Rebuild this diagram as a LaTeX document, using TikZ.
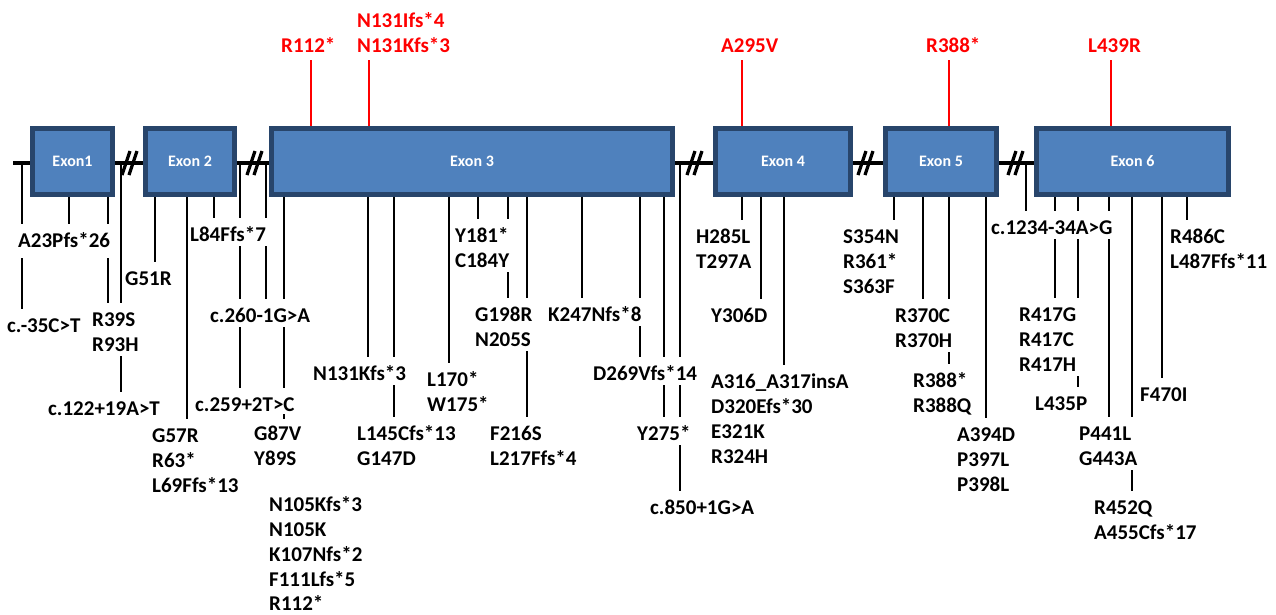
\documentclass[tikz,border=0pt]{standalone}
\usepackage{fontspec}
\setmainfont{Carlito}
\definecolor{exonfill}{HTML}{4F81BD}
\definecolor{exonborder}{HTML}{28456B}
\newcommand\seg[4][]{\draw[conn,#1] (#3 -| #2,0) -- (#2,0 |- #4);}
\begin{document}
\begin{tikzpicture}[x=1pt,y=-1pt,
 lab/.style={font=\fontsize{21}{25}\selectfont\bfseries, inner sep=0pt, text height=14pt, text depth=0pt, anchor=base west},
 redlab/.style={lab, text=red},
 conn/.style={line width=2pt, shorten >=9pt},
 mid/.style={shorten <=5pt},
 redconn/.style={draw=red, line width=2pt, shorten <=8pt},
 exon/.style={draw=exonborder, fill=exonfill, line width=5pt, text=white, font=\fontsize{16}{19}\selectfont\bfseries, minimum height=66pt, inner sep=0pt},
 backbone/.style={line width=4pt},
 slashmark/.style={line width=3.2pt}]
\useasboundingbox (0,0) rectangle (1276,614);
% backbone
\coordinate (bb) at (0,163);
\coordinate (bbstart) at (13,163);
\coordinate (bbend) at (1034,163);
\draw[backbone] (bbstart) -- (bbend);
\draw[slashmark] (122,175) -- (130,151) (129,175) -- (137,151);
\draw[slashmark] (247,175) -- (255,151) (254,175) -- (262,151);
\draw[slashmark] (687,175) -- (695,151) (694,175) -- (702,151);
\draw[slashmark] (858,175) -- (866,151) (865,175) -- (873,151);
\draw[slashmark] (1008,175) -- (1016,151) (1015,175) -- (1023,151);
% exons
\node[exon, minimum width=80pt] (ex1) at (72.5,161.5) {Exon1};
\node[exon, minimum width=89pt] (ex2) at (190,161.5) {Exon 2};
\node[exon, minimum width=401pt] (ex3) at (472,161) {Exon 3};
\node[exon, minimum width=135pt] (ex4) at (783,161.5) {Exon 4};
\node[exon, minimum width=111pt] (ex5) at (941,161.5) {Exon 5};
\node[exon, minimum width=192pt] (ex6) at (1132.5,161.5) {Exon 6};
% red labels
\node[redlab] (r112) at (281,52) {R112*};
\node[redlab] (n131i) at (357,27) {N131Ifs*4};
\node[redlab] (n131k) at (357,52) {N131Kfs*3};
\node[redlab] (a295) at (721,52) {A295V};
\node[redlab] (r388a) at (926,52) {R388*};
\node[redlab] (l439) at (1088,52) {L439R};
\draw[redconn] (311,0 |- r112.south) -- (ex3.north -| 311,0);
\draw[redconn] (369,0 |- n131k.south) -- (ex3.north -| 369,0);
\draw[redconn] (742,0 |- a295.south) -- (ex4.north -| 742,0);
\draw[redconn] (949,0 |- r388a.south) -- (ex5.north -| 949,0);
\draw[redconn] (1111,0 |- l439.south) -- (ex6.north -| 1111,0);
% black labels
\node[lab] (a23) at (18,247) {A23Pfs*26};
\node[lab] (c35) at (7,332) {c.-35C>T};
\node[lab] (r39) at (92,326) {R39S};
\node[lab] (r93) at (92,351) {R93H};
\node[lab] (c122) at (48,415) {c.122+19A>T};
\node[lab] (g51) at (125,285) {G51R};
\node[lab] (g57) at (152,442) {G57R};
\node[lab] (r63) at (152,467) {R63*};
\node[lab] (l69) at (152,492) {L69Ffs*13};
\node[lab] (l84) at (190,241) {L84Ffs*7};
\node[lab] (c260) at (210,322) {c.260-1G>A};
\node[lab] (c259) at (195,411) {c.259+2T>C};
\node[lab] (g87) at (254,440) {G87V};
\node[lab] (y89) at (254,465) {Y89S};
\node[lab] (n105a) at (269,511) {N105Kfs*3};
\node[lab] (n105b) at (269,536) {N105K};
\node[lab] (k107) at (269,561) {K107Nfs*2};
\node[lab] (f111) at (269,586) {F111Lfs*5};
\node[lab] (r112b) at (269,610) {R112*};
\node[lab] (n131b) at (313,380) {N131Kfs*3};
\node[lab] (l145) at (357,440) {L145Cfs*13};
\node[lab] (g147) at (357,465) {G147D};
\node[lab] (l170) at (427,386) {L170*};
\node[lab] (w175) at (427,411) {W175*};
\node[lab] (y181) at (455,242) {Y181*};
\node[lab] (c184) at (455,267) {C184Y};
\node[lab] (g198) at (475,321) {G198R};
\node[lab] (n205) at (475,346) {N205S};
\node[lab] (f216) at (490,440) {F216S};
\node[lab] (l217) at (490,465) {L217Ffs*4};
\node[lab] (k247) at (548,321) {K247Nfs*8};
\node[lab] (d269) at (593,380) {D269Vfs*14};
\node[lab] (y275) at (637,440) {Y275*};
\node[lab] (c850) at (650,514) {c.850+1G>A};
\node[lab] (h285) at (696,243) {H285L};
\node[lab] (t297) at (696,268) {T297A};
\node[lab] (y306) at (711,322) {Y306D};
\node[lab] (a316) at (711,388) {A316\_A317insA};
\node[lab] (d320) at (711,413) {D320Efs*30};
\node[lab] (e321) at (711,438) {E321K};
\node[lab] (r324) at (711,463) {R324H};
\node[lab] (s354) at (843,243) {S354N};
\node[lab] (r361) at (843,268) {R361*};
\node[lab] (s363) at (843,293) {S363F};
\node[lab] (r370c) at (895,322) {R370C};
\node[lab] (r370h) at (895,347) {R370H};
\node[lab] (r388b) at (913,387) {R388*};
\node[lab] (r388q) at (913,412) {R388Q};
\node[lab] (a394) at (957,441) {A394D};
\node[lab] (p397) at (957,466) {P397L};
\node[lab] (p398) at (957,491) {P398L};
\node[lab] (c1234) at (991,234) {c.1234-34A>G};
\node[lab] (r417g) at (1019,321) {R417G};
\node[lab] (r417c) at (1019,346) {R417C};
\node[lab] (r417h) at (1019,371) {R417H};
\node[lab] (l435) at (1035,410) {L435P};
\node[lab] (p441) at (1079,440) {P441L};
\node[lab] (g443) at (1079,465) {G443A};
\node[lab] (r452) at (1094,514) {R452Q};
\node[lab] (a455) at (1094,539) {A455Cfs*17};
\node[lab] (f470) at (1140,401) {F470I};
\node[lab] (r486) at (1170,243) {R486C};
\node[lab] (l487) at (1170,268) {L487Ffs*11};
% connectors
\seg{22}{bb}{a23.north}
\seg[shorten <=11pt]{22}{a23.south}{c35.north}
\seg{69}{ex1.south}{a23.north}
\seg{108}{ex1.south}{a23.north}
\seg[shorten <=11pt]{108}{a23.south}{r39.north}
\seg{121}{bb}{r39.north}
\seg[mid]{121}{r93.south}{c122.north}
\seg{155}{ex2.south}{g51.north}
\seg{187}{ex2.south}{g57.north}
\seg{214}{ex2.south}{l84.north}
\seg{240}{bb}{l84.north}
\seg[mid]{240}{l84.south}{c260.north}
\seg[mid]{240}{c260.south}{c259.north}
\seg{266}{bb}{l84.north}
\seg[mid]{266}{l84.south}{c260.north}
\seg{284}{ex3.south}{c260.north}
\seg[mid]{284}{c260.south}{c259.north}
\seg[shorten <=3pt, shorten >=7pt]{284}{c259.south}{g87.north}
\seg{368}{ex3.south}{n131b.north}
\seg{394}{ex3.south}{n131b.north}
\seg[mid]{394}{n131b.south}{l145.north}
\seg{449}{ex3.south}{l170.north}
\seg{478}{ex3.south}{y181.north}
\seg{508}{ex3.south}{y181.north}
\seg[mid]{508}{c184.south}{g198.north}
\seg{527}{ex3.south}{g198.north}
\seg[mid]{527}{n205.south}{f216.north}
\seg{582}{ex3.south}{k247.north}
\seg{640}{ex3.south}{k247.north}
\seg[mid]{640}{k247.south}{d269.north}
\seg{664}{ex3.south}{d269.north}
\seg[mid]{664}{d269.south}{y275.north}
\seg{680}{bb}{d269.north}
\seg[mid]{680}{d269.south}{y275.north}
\seg[mid]{680}{y275.south}{c850.north}
\seg{742}{ex4.south}{h285.north}
\seg{761}{ex4.south}{y306.north}
\seg{784}{ex4.south}{a316.north}
\seg{894}{ex5.south}{s354.north}
\seg{923}{ex5.south}{r370c.north}
\seg{949}{ex5.south}{r370c.north}
\seg[mid]{949}{r370h.south}{r388b.north}
\seg{986}{ex5.south}{a394.north}
\seg{1026}{bb}{c1234.north}
\seg{1055}{ex6.south}{c1234.north}
\seg[mid]{1055}{c1234.south}{r417g.north}
\seg{1078}{ex6.south}{c1234.north}
\seg[mid]{1078}{c1234.south}{r417g.north}
\seg[mid]{1078}{r417h.south}{l435.north}
\seg{1109}{ex6.south}{c1234.north}
\seg[mid]{1109}{c1234.south}{p441.north}
\seg{1132}{ex6.south}{p441.north}
\seg[mid]{1132}{g443.south}{r452.north}
\seg{1162}{ex6.south}{f470.north}
\seg{1187}{ex6.south}{r486.north}
\end{tikzpicture}
\end{document}
